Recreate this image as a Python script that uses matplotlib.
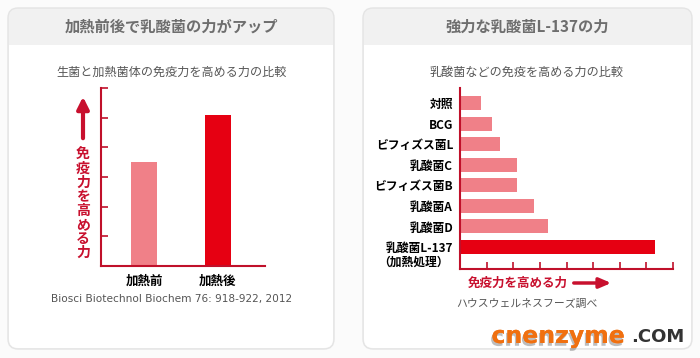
import matplotlib.pyplot as plt
from matplotlib.patches import FancyBboxPatch, Rectangle
import matplotlib.patheffects as pe

plt.rcParams['font.family'] = ['Noto Sans CJK JP', 'DejaVu Sans']

# left chart: before / after heating
heat_labels = ['加熱前', '加熱後']
heat_values = [3.5, 5.1]
heat_colors = ['#f08088', '#e60012']

# right chart: strains compared
strain_labels = ['対照', 'BCG', 'ビフィズス菌L', '乳酸菌C', 'ビフィズス菌B',
                 '乳酸菌A', '乳酸菌D', '乳酸菌L-137']
strain_note = '（加熱処理）'
strain_values = [0.78, 1.2, 1.52, 2.13, 2.13, 2.77, 3.3, 7.33]
strain_colors = ['#f08088'] * 7 + ['#e60012']

W, H = 700, 358
axis_red = '#c0102a'
text_red = '#c8102e'

fig = plt.figure(figsize=(7, 3.58), dpi=100)
fig.patch.set_facecolor('#fbfbfb')

# pixel-coordinate background layer
bg = fig.add_axes([0, 0, 1, 1])
bg.set_xlim(0, W)
bg.set_ylim(H, 0)
bg.axis('off')


def panel(x0, x1, y0, y1, head):
    bg.add_patch(FancyBboxPatch((x0, y0), x1 - x0, y1 - y0,
                                boxstyle='round,pad=0,rounding_size=10',
                                fc='#f1f1f1', ec='#e4e4e4', lw=1))
    bg.add_patch(Rectangle((x0 + 1, head), x1 - x0 - 2, y1 - head - 12,
                           fc='white', ec='none'))
    bg.add_patch(FancyBboxPatch((x0 + 1, y1 - 30), x1 - x0 - 2, 29,
                                boxstyle='round,pad=0,rounding_size=9',
                                fc='white', ec='none'))


panel(8, 334, 8, 349, 45)
panel(363, 692, 8, 349, 45)

# titles
bg.text(171, 27, '加熱前後で乳酸菌の力がアップ', ha='center', va='center',
        fontsize=11, color='#6e6e6e', fontweight='bold')
bg.text(527, 27, '強力な乳酸菌L-137の力', ha='center', va='center',
        fontsize=11, color='#6e6e6e', fontweight='bold')
bg.text(172, 72, '生菌と加熱菌体の免疫力を高める力の比較', ha='center', va='center',
        fontsize=8.7, color='#555555')
bg.text(527, 72, '乳酸菌などの免疫を高める力の比較', ha='center', va='center',
        fontsize=8.7, color='#555555')

# left vertical axis label with arrow
bg.annotate('', xy=(83, 94), xytext=(83, 141),
            arrowprops=dict(arrowstyle='-|>,head_width=0.35,head_length=0.7',
                            color=text_red, lw=3))
bg.text(83, 204, '\n'.join('免疫力を高める力'), ha='center', va='center',
        fontsize=10, color=text_red, fontweight='bold', linespacing=1.0)

bg.text(172, 299, 'Biosci Biotechnol Biochem 76: 918-922, 2012', ha='center',
        va='center', fontsize=7.6, color='#555555', family='DejaVu Sans')

# second line of the L-137 label
bg.text(449, 262, strain_note, ha='right', va='center', fontsize=8.5,
        fontweight='bold', color='black')

# right x-axis label with arrow
bg.text(468, 283, '免疫力を高める力', ha='left', va='center',
        fontsize=9, color=text_red, fontweight='bold')
bg.annotate('', xy=(614, 283), xytext=(571, 283),
            arrowprops=dict(arrowstyle='-|>,head_width=0.3,head_length=0.7',
                            color=text_red, lw=2.5))
bg.text(527, 304, 'ハウスウェルネスフーズ調べ', ha='center', va='center',
        fontsize=7.8, color='#555555')

# watermark
bg.text(625, 336, 'cnenzyme', ha='right', va='center', fontsize=17,
        fontweight='heavy', color='#f07010', family='DejaVu Sans',
        path_effects=[pe.withSimplePatchShadow(offset=(-1, -2),
                                               shadow_rgbFace='#444444', alpha=0.35),
                      pe.Normal()])
bg.text(631, 337, '.COM', ha='left', va='center', fontsize=13,
        fontweight='bold', color='#333333', family='DejaVu Sans')


def pix_axes(x0, x1, y0, y1):
    return fig.add_axes([x0 / W, 1 - y1 / H, (x1 - x0) / W, (y1 - y0) / H])


# left bar chart
ax1 = pix_axes(101, 265, 88, 266)
ax1.patch.set_alpha(0)
pos = list(range(len(heat_values)))
ax1.bar(pos, heat_values, width=0.354, color=heat_colors)
ax1.set_xlim(-0.585, 1.646)
ax1.set_ylim(0, 6)
ax1.set_yticks(range(7))
ax1.set_yticklabels([])
ax1.set_xticks(pos)
ax1.set_xticklabels(heat_labels, fontsize=9, fontweight='bold')
ax1.tick_params(axis='y', direction='in', length=5, width=1.2, color=axis_red)
ax1.tick_params(axis='x', length=0, pad=6)
for s in ['top', 'right']:
    ax1.spines[s].set_visible(False)
for s in ['left', 'bottom']:
    ax1.spines[s].set_color(axis_red)
    ax1.spines[s].set_linewidth(1.5)

# right horizontal bar chart
ax2 = pix_axes(460, 673, 88, 269)
ax2.patch.set_alpha(0)
ypos = list(range(len(strain_values)))
ax2.barh(ypos, strain_values, height=0.68, color=strain_colors)
ax2.set_xlim(0, 8)
ax2.set_ylim(8.07, -0.73)
ax2.set_xticks(range(9))
ax2.set_xticklabels([])
ax2.set_yticks(ypos)
ax2.set_yticklabels(strain_labels, fontsize=8.5, fontweight='bold')
ax2.tick_params(axis='x', direction='in', length=5, width=1.2, color=axis_red)
ax2.tick_params(axis='y', length=0, pad=5)
for s in ['top', 'right']:
    ax2.spines[s].set_visible(False)
for s in ['left', 'bottom']:
    ax2.spines[s].set_color(axis_red)
    ax2.spines[s].set_linewidth(1.5)

fig.savefig('out.png', dpi=100, facecolor=fig.get_facecolor())
